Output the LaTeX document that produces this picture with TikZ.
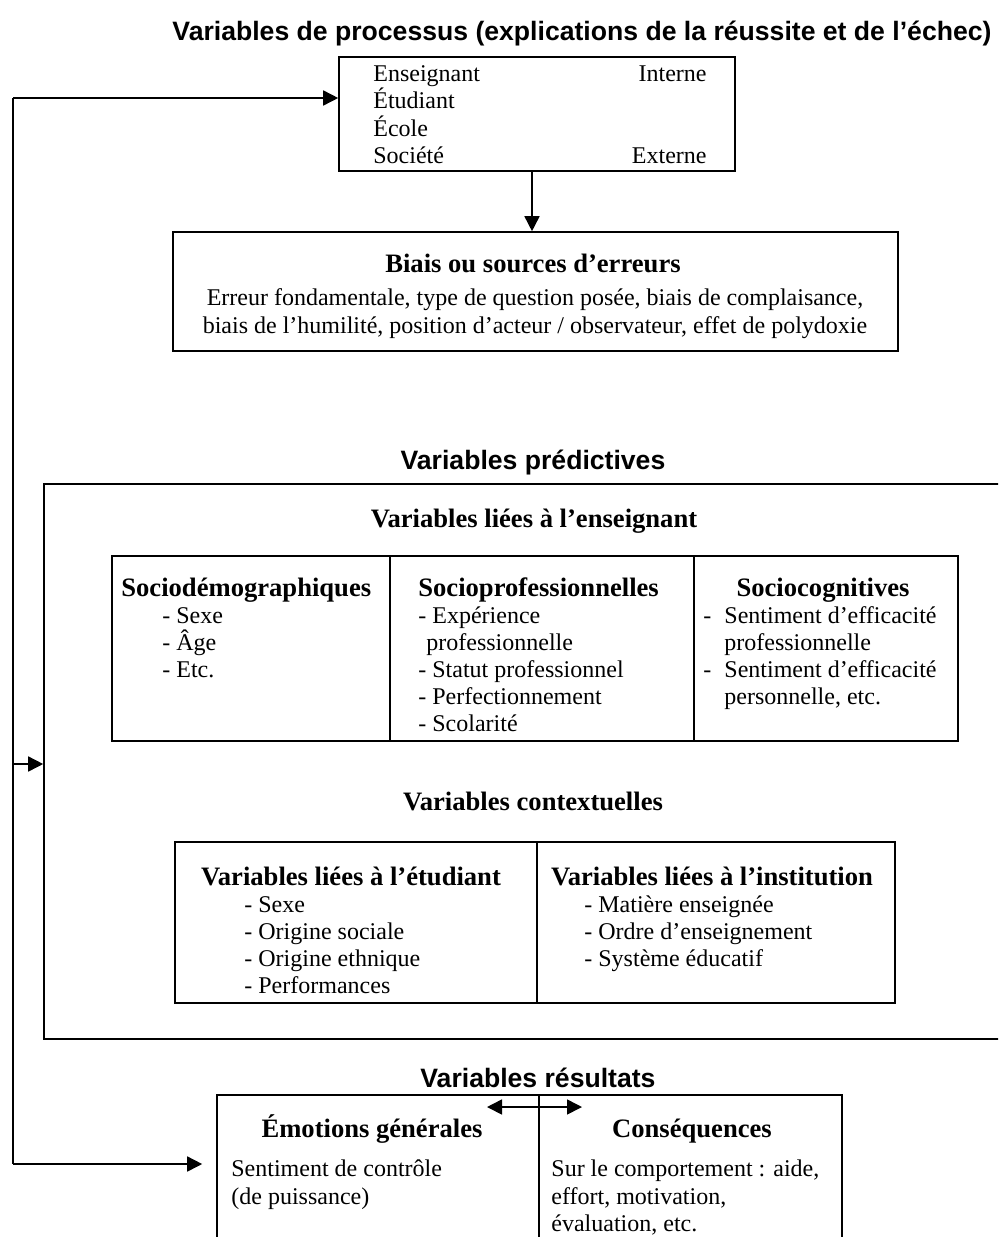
\documentclass[tikz,border=0pt]{standalone}
\usepackage{fontspec}
\setmainfont{Liberation Serif}
\newfontfamily\sansb{Liberation Sans}
\usetikzlibrary{arrows.meta,fit}
\begin{document}
\begin{tikzpicture}[x=0.5pt,y=-0.5pt,
  txt/.style={inner sep=0pt, font=\fontsize{12.0}{13.8}\selectfont},
  hd/.style={inner sep=0pt, font=\fontsize{13.3}{13.8}\selectfont\bfseries},
  ttl/.style={inner sep=0pt, font=\fontsize{13.3}{13.8}\selectfont\sansb\bfseries},
  box/.style={draw, inner sep=0pt, line width=0.8pt},
  ln/.style={line width=0.8pt},
  arr/.style={ln, -{Triangle[length=7.5pt,width=7.5pt]}},
]
\useasboundingbox (0,0) rectangle (998,1237);
\clip (0,0) rectangle (998,1237);

% ---------- Process variables ----------
\node[ttl, anchor=base] (t1) at (582,40) {Variables de processus (explications de la réussite et de l’échec)};
\node[box, fit={(339,57) (735,171)}] (proc) {};
\node[txt, anchor=base west] (p1) at (373,81) {Enseignant};
\node[txt, anchor=base west] (p2) at (373,108) {Étudiant};
\node[txt, anchor=base west] (p3) at (373,136) {École};
\node[txt, anchor=base west] (p4) at (373,163) {Société};
\node[txt, anchor=base east] (pi) at (707,81) {Interne};
\node[txt, anchor=base east] (pe) at (707,163) {Externe};

\node[box, fit={(173,232) (898,351)}] (biais) {};
\node[hd, anchor=base] (b0) at (533,272) {Biais ou sources d’erreurs};
\node[txt, anchor=base] (b1) at (535,305) {Erreur fondamentale, type de question posée, biais de complaisance,};
\node[txt, anchor=base] (b2) at (535,333) {biais de l’humilité, position d’acteur / observateur, effet de polydoxie};

\draw[arr] (proc.south -| 532,0) -- (biais.north -| 532,0);

% ---------- Predictive variables ----------
\node[ttl, anchor=base] (t2) at (533,469) {Variables prédictives};
\node[box, fit={(44,484) (1012,1039)}] (big) {};
\node[hd, anchor=base] (e0) at (534,527) {Variables liées à l’enseignant};

\node[box, fit={(112,556) (958,741)}] (ens) {};
\draw[ln] (ens.north -| 390,0) -- (ens.south -| 390,0);
\draw[ln] (ens.north -| 694,0) -- (ens.south -| 694,0);

\node[hd, anchor=base west] (c1h) at (121,596) {Sociodémographiques};
\node[txt, anchor=base west] (c1a) at (162,623) {- Sexe};
\node[txt, anchor=base west] (c1b) at (162,650) {- Âge};
\node[txt, anchor=base west] (c1c) at (162,677) {- Etc.};

\node[hd, anchor=base west] (c2h) at (418,596) {Socioprofessionnelles};
\node[txt, anchor=base west] (c2a) at (418,623) {- Expérience};
\node[txt, anchor=base west] (c2b) at (426,650) {professionnelle};
\node[txt, anchor=base west] (c2c) at (418,677) {- Statut professionnel};
\node[txt, anchor=base west] (c2d) at (418,704) {- Perfectionnement};
\node[txt, anchor=base west] (c2e) at (418,731) {- Scolarité};

\node[hd, anchor=base] (c3h) at (823,596) {Sociocognitives};
\node[txt, anchor=base west] (c3d1) at (703,623) {-};
\node[txt, anchor=base west] (c3a) at (724,623) {Sentiment d’efficacité};
\node[txt, anchor=base west] (c3b) at (724,650) {professionnelle};
\node[txt, anchor=base west] (c3d2) at (703,677) {-};
\node[txt, anchor=base west] (c3c) at (724,677) {Sentiment d’efficacité};
\node[txt, anchor=base west] (c3e) at (724,704) {personnelle, etc.};

\node[hd, anchor=base] (x0) at (533,810) {Variables contextuelles};
\node[box, fit={(175,842) (895,1003)}] (ctx) {};
\draw[ln] (ctx.north -| 537,0) -- (ctx.south -| 537,0);

\node[hd, anchor=base] (s0) at (351,885) {Variables liées à l’étudiant};
\node[txt, anchor=base west] (s1) at (244,912) {- Sexe};
\node[txt, anchor=base west] (s2) at (244,939) {- Origine sociale};
\node[txt, anchor=base west] (s3) at (244,966) {- Origine ethnique};
\node[txt, anchor=base west] (s4) at (244,993) {- Performances};

\node[hd, anchor=base] (i0) at (712,885) {Variables liées à l’institution};
\node[txt, anchor=base west] (i1) at (584,912) {- Matière enseignée};
\node[txt, anchor=base west] (i2) at (584,939) {- Ordre d’enseignement};
\node[txt, anchor=base west] (i3) at (584,966) {- Système éducatif};

% ---------- Outcome variables ----------
\node[ttl, anchor=base] (t3) at (538,1087) {Variables résultats};
\node[box, fit={(217,1095) (842,1260)}] (res) {};
\draw[ln] (res.north -| 539,0) -- (res.south -| 539,0);
\node[hd, anchor=base] (r1h) at (372,1137) {Émotions générales};
\node[txt, anchor=base west] (r1a) at (231,1176) {Sentiment de contrôle};
\node[txt, anchor=base west] (r1b) at (231,1204) {(de puissance)};
\node[hd, anchor=base] (r2h) at (692,1137) {Conséquences};
\node[txt, anchor=base west] (r2a) at (551,1176) {Sur le comportement : aide,};
\node[txt, anchor=base west] (r2b) at (551,1204) {effort, motivation,};
\node[txt, anchor=base west] (r2c) at (551,1231) {évaluation, etc.};

\coordinate (dl) at (487,1107);
\coordinate (dr) at (582,1107);
\draw[ln, {Triangle[length=7.5pt,width=7.5pt]}-{Triangle[length=7.5pt,width=7.5pt]}] (dl) -- (dr);

% ---------- Feedback loop ----------
\coordinate (fbtop) at (13,98);
\coordinate (fbmid) at (13,764);
\coordinate (fbbot) at (13,1164);
\draw[ln] (fbtop) -- (fbbot);
\draw[arr] (fbtop) -- (proc.west |- fbtop);
\draw[arr] (fbmid) -- (big.west |- fbmid);
\draw[arr, shorten >=7pt] (fbbot) -- (res.west |- fbbot);
\end{tikzpicture}
\end{document}
